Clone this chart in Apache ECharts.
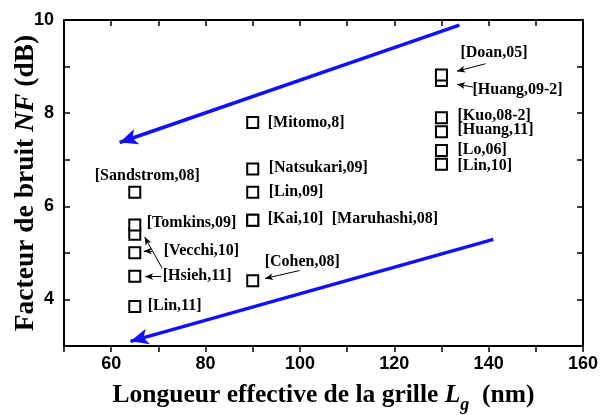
<!DOCTYPE html>
<html>
<head>
<meta charset="utf-8">
<script src="https://cdn.jsdelivr.net/npm/echarts@6/dist/echarts.min.js"></script>
<style>
  html, body { margin: 0; padding: 0; background: #fff; }
  #chart { width: 609px; height: 415px; }
</style>
</head>
<body>
<div id="chart"></div>
<script>
// references, gate length (nm), noise figure (dB)
// (a lower square is listed before the one that overlaps it from above)
const refs = ['Sandstrom,08', 'Hsieh,11', 'Tomkins,09', 'Vecchi,10', 'Hsieh,11', 'Lin,11',
  'Mitomo,8', 'Natsukari,09', 'Lin,09', 'Kai,10', 'Maruhashi,08', 'Cohen,08',
  'Huang,09-2', 'Doan,05', 'Kuo,08-2', 'Huang,11', 'Lo,06', 'Lin,10'];
const lengthNm = [65, 65, 65, 65, 65, 65, 90, 90, 90, 90, 90, 90, 130, 130, 130, 130, 130, 130];
const noiseDb = [6.3, 5.4, 5.6, 5.0, 4.5, 3.85, 7.8, 6.8, 6.3, 5.7, 5.7, 4.4, 8.7, 8.82, 7.9, 7.6, 7.2, 6.9];

// blue trend arrows [from, to]
const trendArrows = [
  [[133.8, 9.89], [61.8, 7.37]],
  [[141.0, 5.29], [64.1, 3.1]]
];
// small black pointers from a label to its square
const pointers = [
  [[139.3, 9.06], [133.3, 8.9]],
  [[136.7, 8.56], [133.3, 8.62]],
  [[68.8, 5.04], [66.9, 5.04]],
  [[70.6, 4.49], [67.2, 4.49]],
  [[70.8, 4.67], [67.1, 5.34]],
  [[99.9, 4.62], [92.6, 4.45]]
];

// label offsets (px) from each square's centre, null = no label
const labelOffsets = [[-40, -16], null, [12, -2], [29, -2], [28, 0], [13, -1],
  [15, 0], [16, -1], [16, 0], [15, -1], [79, -1], [12, -19],
  [31, 9], [19, -22], [16, -2], [16, -1.5], [16, -0.5], [16, 1.5]];

const serif = '"Liberation Serif", "Times New Roman", serif';
const sans = '"Liberation Sans", Arial, sans-serif';

const chart = echarts.init(document.getElementById('chart'));

const axisLine = { show: true, onZero: false, lineStyle: { color: '#000', width: 2 } };
const tick = (inside) => ({ show: true, inside: inside, length: 6, lineStyle: { color: '#000', width: 1.5 } });

const points = refs.map((r, i) => {
  const off = labelOffsets[i];
  return {
    name: r,
    value: [lengthNm[i], noiseDb[i]],
    label: off ? { show: true, offset: off } : { show: false }
  };
});

chart.setOption({
  backgroundColor: '#fff',
  animation: false,
  grid: { left: 64, right: 26, top: 20, bottom: 69, outerBoundsMode: 'none', containLabel: false },
  xAxis: [{
    type: 'value', min: 50, max: 160, interval: 10,
    axisLine: axisLine, axisTick: tick(false), splitLine: { show: false },
    axisLabel: {
      color: '#000', fontFamily: sans, fontWeight: 'bold', fontSize: 18, margin: 9,
      formatter: v => (v % 20 === 0 ? String(v) : '')
    },
    name: '{b|Longueur effective de la grille }{i|L}{sub|g}{b|  (nm)}',
    nameLocation: 'middle', nameGap: 31,
    nameTextStyle: {
      rich: {
        b: { fontFamily: serif, fontWeight: 'bold', fontSize: 25.5, color: '#000', lineHeight: 25 },
        i: { fontFamily: serif, fontWeight: 'bold', fontStyle: 'italic', fontSize: 25.5, color: '#000', lineHeight: 25 },
        sub: { fontFamily: serif, fontWeight: 'bold', fontStyle: 'italic', fontSize: 18, color: '#000',
          lineHeight: 18, padding: [18, 0, 0, 0] }
      }
    }
  }, {
    type: 'value', min: 50, max: 160, interval: 10, position: 'top',
    axisLine: axisLine, axisTick: tick(true), axisLabel: { show: false }, splitLine: { show: false }
  }],
  yAxis: [{
    type: 'value', min: 3, max: 10, interval: 1,
    axisLine: axisLine, axisTick: tick(true), splitLine: { show: false },
    axisLabel: {
      color: '#000', fontFamily: sans, fontWeight: 'bold', fontSize: 18, margin: 10,
      formatter: v => (v % 2 === 0 ? String(v) : '')
    },
    name: '{b|Facteur de bruit }{i|NF}{b| (dB)}',
    nameLocation: 'middle', nameGap: 24, nameMoveOverlap: false,
    nameTextStyle: {
      rich: {
        b: { fontFamily: serif, fontWeight: 'bold', fontSize: 27.5, color: '#000' },
        i: { fontFamily: serif, fontWeight: 'bold', fontStyle: 'italic', fontSize: 27.5, color: '#000' }
      }
    }
  }, {
    type: 'value', min: 3, max: 10, interval: 1, position: 'right',
    axisLine: axisLine, axisTick: tick(true), axisLabel: { show: false }, splitLine: { show: false }
  }],
  series: [{
    type: 'scatter',
    symbol: 'rect',
    symbolSize: 11,
    itemStyle: { color: '#fff', borderColor: '#000', borderWidth: 2, opacity: 1 },
    label: {
      position: 'inside', align: 'left', verticalAlign: 'middle',
      formatter: '[{b}]', color: '#000',
      fontFamily: serif, fontWeight: 'bold', fontSize: 16
    },
    emphasis: { disabled: true },
    data: points,
    markLine: {
      silent: true, animation: false, precision: 3,
      label: { show: false },
      emphasis: { disabled: true },
      data: trendArrows.map(a => [
        { coord: a[0], symbol: 'none', lineStyle: { color: '#1010ff', width: 3.5, type: 'solid' } },
        { coord: a[1], symbol: 'arrow', symbolSize: [12, 18] }
      ]).concat(pointers.map(p => [
        { coord: p[0], symbol: 'none', lineStyle: { color: '#000', width: 1, type: 'solid' } },
        { coord: p[1], symbol: 'arrow', symbolSize: [5, 8] }
      ]))
    }
  }]
});
</script>
</body>
</html>
